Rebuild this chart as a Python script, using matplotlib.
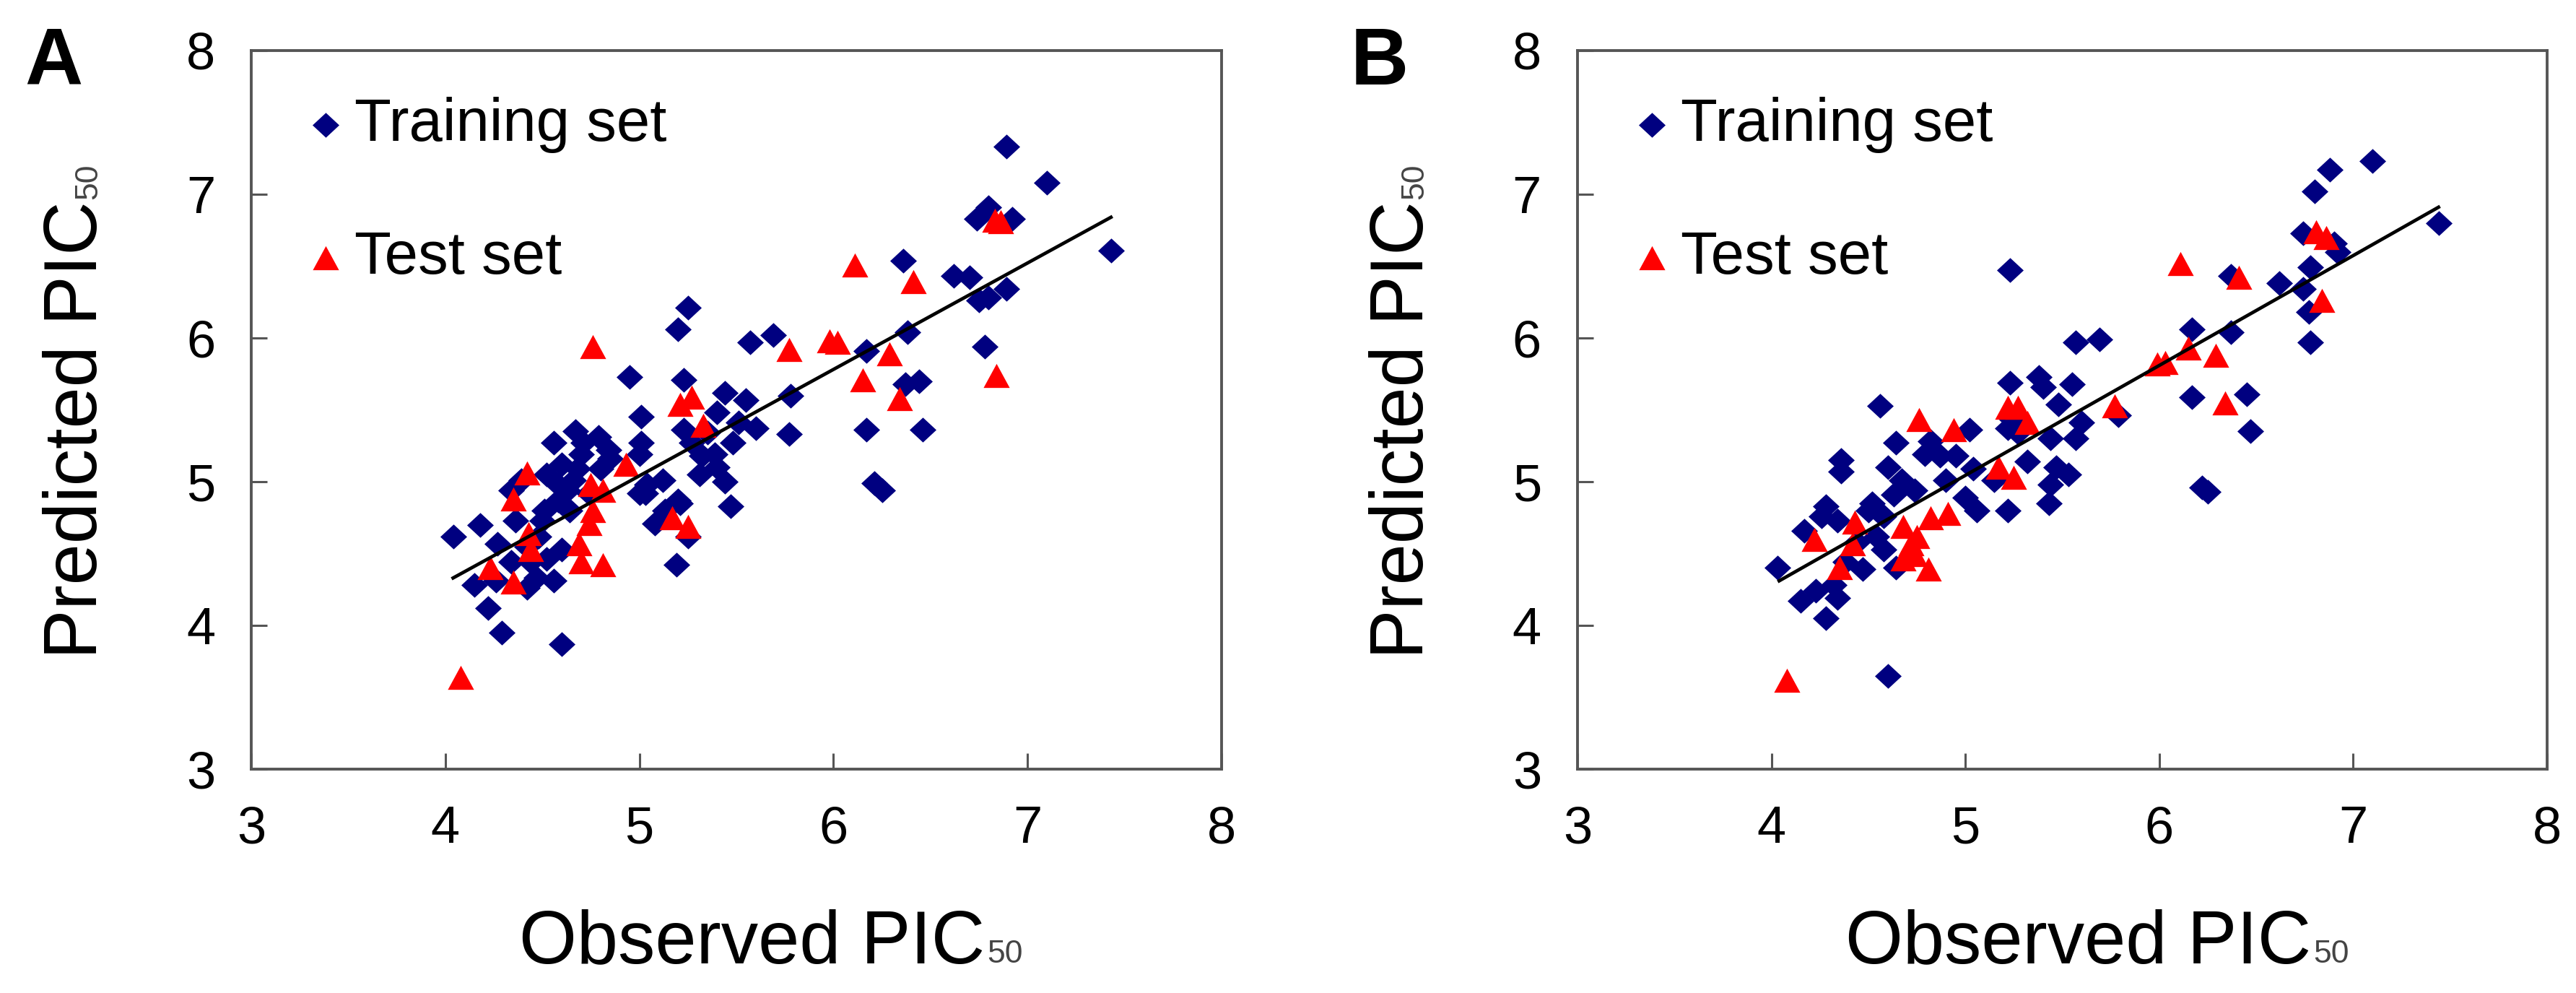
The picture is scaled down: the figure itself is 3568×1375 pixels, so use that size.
import matplotlib
matplotlib.use('Agg')
import matplotlib.pyplot as plt

plt.rcParams['font.family'] = ['Liberation Sans', 'DejaVu Sans']

W, H = 3568, 1375

# ---- panel A ----
train_obs_a = [5.25, 5.20, 5.57, 5.69, 4.95, 5.23, 5.44, 5.55, 5.78, 5.01, 5.23, 5.40, 5.60, 5.77,
               5.48, 4.56, 4.67, 4.79, 5.01, 4.84, 4.70, 4.60, 5.00, 5.32, 5.40, 5.31, 5.44, 5.12,
               5.03, 5.20, 5.47, 4.39, 4.34, 4.66, 4.58, 4.51, 4.64, 5.08, 5.25, 4.04, 4.18, 4.36,
               4.27, 4.48, 4.60, 4.34, 4.15, 4.26, 4.47, 4.56, 4.42, 4.22, 4.29, 4.60, 5.19, 4.74,
               4.80, 4.85, 4.52, 4.63, 4.44, 4.52, 5.00, 5.04, 5.13, 5.21, 5.27, 5.35, 5.51, 5.39,
               4.42, 4.50, 4.68, 4.58, 4.71,
               6.89, 7.10, 6.74, 6.80, 6.92, 7.43, 6.36, 6.62, 6.70, 6.89, 6.75, 6.80, 6.38, 6.17,
               6.78, 6.37, 6.44, 6.17, 6.46, 6.21, 6.25]
train_pred_a = [6.21, 6.06, 5.97, 6.02, 5.73, 5.71, 5.62, 5.57, 5.60, 5.45, 5.36, 5.48, 5.37, 5.33,
                5.27, 5.27, 5.35, 5.31, 5.27, 5.22, 5.19, 5.12, 5.19, 5.18, 5.10, 5.05, 5.00, 5.01,
                4.92, 4.87, 4.83, 5.01, 4.94, 5.01, 4.87, 4.80, 4.80, 4.71, 4.62, 4.62, 4.70, 4.73,
                4.57, 4.62, 4.53, 4.44, 4.28, 4.31, 4.33, 4.31, 4.26, 4.12, 3.95, 3.87, 4.42, 4.92,
                5.09, 5.16, 5.05, 4.94, 4.44, 4.46, 4.92, 4.98, 4.80, 4.85, 5.27, 5.34, 5.41, 5.19,
                4.55, 4.73, 5.09, 4.98, 5.27,
                7.33, 7.08, 6.83, 6.91, 6.83, 6.61, 6.54, 6.43, 6.42, 6.34, 6.26, 6.28, 6.04, 5.91,
                5.94, 5.68, 5.70, 5.36, 5.36, 4.99, 4.94]
test_obs_a = [4.76, 5.21, 5.27, 5.77, 5.33, 4.42, 4.35, 4.93, 4.75, 4.81, 4.76, 4.74, 4.43, 4.44,
              4.69, 4.70, 4.81, 4.23, 4.35, 5.17, 5.25, 4.08,
              6.11, 6.41, 6.83, 6.86, 6.02, 5.98, 6.29, 6.15, 6.34, 6.84]
test_pred_a = [5.94, 5.54, 5.59, 5.92, 5.39, 5.06, 4.88, 5.12, 4.98, 4.94, 4.80, 4.71, 4.64, 4.53,
               4.57, 4.44, 4.42, 4.40, 4.30, 4.75, 4.69, 3.64,
               6.51, 6.39, 6.82, 6.81, 5.97, 5.98, 5.89, 5.71, 5.58, 5.74]
fit_obs_a = [4.04, 7.43]
fit_pred_a = [4.33, 6.84]

# ---- panel B ----
train_obs_b = [5.57, 5.69, 4.56, 5.23, 5.38, 5.40, 5.55, 5.48, 5.79, 5.02, 5.22, 5.60, 5.57, 5.44,
               4.64, 4.82, 4.95, 4.36, 4.36, 4.60, 4.79, 5.32, 5.47, 5.53, 4.67, 4.74, 4.90, 5.04,
               5.15, 5.00, 5.06, 5.22, 5.43, 5.44, 4.52, 4.28, 4.58, 4.17, 4.34, 4.03, 4.38, 4.47,
               4.58, 4.64, 4.32, 4.15, 4.23, 4.34, 4.28, 4.60, 4.54, 4.44, 4.26, 4.50, 4.87, 4.63,
               5.24, 5.27, 5.23,
               7.10, 6.88, 6.80, 7.44, 6.74, 6.90, 6.92, 6.78, 6.37, 6.62, 6.74, 6.77, 6.78, 6.17,
               6.37, 6.17, 6.45, 6.47, 6.22, 6.25]
train_pred_b = [5.97, 5.99, 5.53, 5.69, 5.73, 5.66, 5.68, 5.54, 5.46, 5.36, 5.37, 5.41, 5.30, 5.30,
                5.27, 5.28, 5.18, 5.15, 5.07, 5.10, 5.19, 5.14, 5.10, 5.05, 5.01, 4.94, 5.01, 5.09,
                5.01, 4.89, 4.80, 4.80, 4.85, 4.98, 4.85, 4.83, 4.76, 4.66, 4.73, 4.40, 4.44, 4.39,
                4.53, 4.40, 4.28, 4.17, 4.24, 4.19, 4.05, 3.65, 4.62, 4.58, 4.76, 4.80, 5.18, 4.91,
                5.43, 5.34, 6.47,
                7.23, 7.17, 7.02, 6.80, 6.73, 6.66, 6.60, 6.49, 6.43, 6.38, 6.34, 6.18, 5.97, 6.06,
                6.04, 5.59, 5.61, 5.35, 4.96, 4.93]
test_obs_b = [4.76, 4.94, 5.22, 5.27, 5.32, 5.77, 5.17, 5.25, 4.43, 4.22, 4.42, 4.35, 4.68, 4.82,
              4.91, 4.72, 4.74, 4.68, 4.81, 4.08, 4.75,
              6.11, 6.41, 6.81, 6.86, 6.84, 6.15, 6.29, 6.03, 5.99, 6.34]
test_pred_b = [5.43, 5.36, 5.52, 5.52, 5.41, 5.53, 5.10, 5.03, 4.72, 4.60, 4.57, 4.40, 4.69, 4.75,
               4.78, 4.57, 4.49, 4.46, 4.39, 3.62, 4.62,
               6.52, 6.42, 6.74, 6.70, 6.26, 5.93, 5.88, 5.83, 5.82, 5.55]
fit_obs_b = [4.04, 7.44]
fit_pred_b = [4.31, 6.91]

ticks = [3, 4, 5, 6, 7, 8]
# Excel-like markers: slightly squat diamond and triangle
diamond = [(0, 0.93), (1, 0), (0, -0.93), (-1, 0)]
tri = [(-1, -0.92), (1, -0.92), (0, 0.92)]
navy = '#000080'
red = '#ff0000'
spine_col = '#555555'

fig = plt.figure(figsize=(W / 100, H / 100), dpi=100)
ax_a = fig.add_axes([348 / W, 1 - 1065 / H, 1344 / W, 995 / H])
ax_b = fig.add_axes([2185 / W, 1 - 1065 / H, 1343 / W, 995 / H])

panels = [
    (ax_a, 'A', train_obs_a, train_pred_a, test_obs_a, test_pred_a, fit_obs_a, fit_pred_a),
    (ax_b, 'B', train_obs_b, train_pred_b, test_obs_b, test_pred_b, fit_obs_b, fit_pred_b),
]

labels_to_sub = []
for ax, letter, tx, ty, sx, sy, fx, fy in panels:
    ax.scatter(tx, ty, marker=diamond, s=710, color=navy, linewidths=0, zorder=2, label='Training set')
    ax.scatter(sx, sy, marker=tri, s=680, color=red, linewidths=0, zorder=3, label='Test set')
    ax.plot(fx, fy, color='black', linewidth=3.4, zorder=4)

    ax.set_xlim(3, 8)
    ax.set_ylim(3, 8)
    ax.set_xticks(ticks)
    ax.set_yticks(ticks)
    for sp in ax.spines.values():
        sp.set_color(spine_col)
        sp.set_linewidth(2.8)
    ax.tick_params(direction='in', length=16, width=2.2, color=spine_col, pad=36,
                   labelsize=52, labelcolor='black')

    ax.legend(loc='upper left', bbox_to_anchor=(0.058, 0.936), frameon=False, fontsize=60,
              handlelength=0.6, handletextpad=0.18, labelspacing=1.27, borderpad=0,
              borderaxespad=0, scatterpoints=1)

    left = ax.get_position().x0 * W
    fig.text((left - 314) / W, 1 - 117 / H, letter, fontsize=80, fontweight='bold',
             ha='left', va='baseline')
    t1 = fig.text((left + 371) / W, 1 - 1333 / H, 'Observed PIC', fontsize=74,
                  ha='left', va='baseline')
    t2 = fig.text((left - 214) / W, 1 - 912 / H, 'Predicted PIC', fontsize=74,
                  rotation=90, rotation_mode='anchor', ha='left', va='baseline')
    labels_to_sub.append((t1, t2))

# small "50" after each axis title
fig.canvas.draw()
rend = fig.canvas.get_renderer()
for t1, t2 in labels_to_sub:
    b1 = t1.get_window_extent(rend)
    x0, y0 = t1.get_position()
    fig.text((b1.x1 + 3) / W, y0, '50', fontsize=32, color='#444444', ha='left', va='baseline')
    b2 = t2.get_window_extent(rend)
    x0, y0 = t2.get_position()
    fig.text(x0, (b2.y1 + 3) / H, '50', fontsize=32, color='#444444', rotation=90,
             rotation_mode='anchor', ha='left', va='baseline')

fig.savefig('out.png', dpi=100)
